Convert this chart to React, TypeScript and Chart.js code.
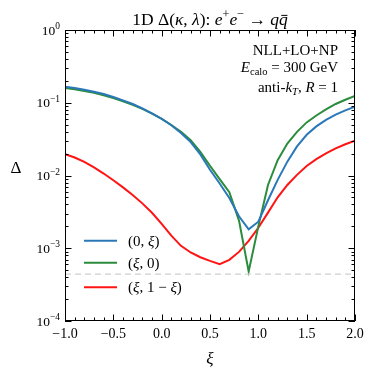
import React, { useEffect, useRef } from "react";
import { Chart, registerables } from "chart.js";

Chart.register(...registerables);

const xiValues = [
  -1.0, -0.9, -0.8, -0.7, -0.6, -0.5, -0.4, -0.3, -0.2, -0.1, 0.0, 0.1, 0.2, 0.3, 0.4, 0.5,
  0.6, 0.7, 0.8, 0.9, 1.0, 1.1, 1.2, 1.3, 1.4, 1.5, 1.6, 1.7, 1.8, 1.9, 2.0,
];

const blueVals = [
  0.166, 0.159, 0.151, 0.142, 0.132, 0.12, 0.108, 0.0962, 0.0838, 0.0716, 0.0603, 0.049, 0.0385,
  0.0288, 0.0195, 0.012, 0.00776, 0.0049, 0.00275, 0.00182, 0.00232, 0.00457, 0.00871, 0.0155,
  0.0251, 0.0363, 0.0473, 0.0582, 0.0687, 0.0785, 0.0883,
];

const greenVals = [
  0.16, 0.153, 0.145, 0.137, 0.127, 0.116, 0.105, 0.0938, 0.0822, 0.0708, 0.06, 0.0495, 0.0398,
  0.0305, 0.0211, 0.0136, 0.0089, 0.0059, 0.0024, 0.00048, 0.002, 0.00741, 0.0162, 0.0275, 0.0398,
  0.0537, 0.0668, 0.0813, 0.0962, 0.11, 0.124,
];

const redVals = [
  0.0196, 0.01766, 0.01538, 0.01294, 0.01064, 0.00861, 0.00687, 0.0054, 0.00414, 0.00307, 0.00217,
  0.00149, 0.00108, 0.000875, 0.000753, 0.000671, 0.000605, 0.000692, 0.000891, 0.00126, 0.00191,
  0.00309, 0.00501, 0.00741, 0.0102, 0.0135, 0.0168, 0.0202, 0.0236, 0.0269, 0.0302,
];

const refLevel = 4.4e-4;

const xMajorTicks = [-1.0, -0.5, 0.0, 0.5, 1.0, 1.5, 2.0];
const xTickLabels = ["\u22121.0", "\u22120.5", "0.0", "0.5", "1.0", "1.5", "2.0"];
const yDecades = [0, -1, -2, -3, -4];
const yTickExp = ["0", "\u22121", "\u22122", "\u22123", "\u22124"];

const BLUE = "#2a78b8";
const GREEN = "#2a8c3c";
const RED = "#ff1414";
const FAM = '"Liberation Serif", "DejaVu Serif", serif';

type Seg = { t: string; it?: boolean; sup?: boolean; sub?: boolean; bar?: boolean };

function drawRich(
  ctx: CanvasRenderingContext2D,
  segs: Seg[],
  x: number,
  y: number,
  size: number,
  align: "left" | "right" | "center"
) {
  const fontFor = (s: Seg) =>
    `${s.it ? "italic " : ""}${s.sup || s.sub ? size * 0.7 : size}px ${FAM}`;
  const widths = segs.map((s) => {
    ctx.font = fontFor(s);
    return ctx.measureText(s.t).width;
  });
  const total = widths.reduce((a, b) => a + b, 0);
  let cx = align === "left" ? x : align === "right" ? x - total : x - total / 2;
  ctx.textAlign = "left";
  ctx.textBaseline = "alphabetic";
  segs.forEach((s, i) => {
    ctx.font = fontFor(s);
    const dy = s.sup ? -size * 0.4 : s.sub ? size * 0.22 : 0;
    ctx.fillText(s.t, cx, y + dy);
    if (s.bar) {
      ctx.save();
      ctx.lineWidth = 1;
      ctx.beginPath();
      ctx.moveTo(cx + widths[i] * 0.25, y - size * 0.55);
      ctx.lineTo(cx + widths[i] * 0.95, y - size * 0.55);
      ctx.stroke();
      ctx.restore();
    }
    cx += widths[i];
  });
}

const decorPlugin = {
  id: "decor",
  afterDatasetsDraw(chart: any) {
    const ctx: CanvasRenderingContext2D = chart.ctx;
    const { left, right, top, bottom } = chart.chartArea;
    const xs = chart.scales.x;
    const ys = chart.scales.y;
    ctx.save();
    ctx.strokeStyle = "#000";
    ctx.fillStyle = "#000";
    ctx.lineWidth = 1;

    // frame
    ctx.strokeRect(left + 0.5, top + 0.5, right - left - 1, bottom - top - 1);

    const MAJ = 6.5;
    const MIN = 3.5;
    ctx.beginPath();
    for (let k = -10; k <= 20; k++) {
      const v = k / 10;
      const px = Math.round(xs.getPixelForValue(v)) + 0.5;
      const len = k % 5 === 0 ? MAJ : MIN;
      ctx.moveTo(px, bottom);
      ctx.lineTo(px, bottom - len);
      ctx.moveTo(px, top);
      ctx.lineTo(px, top + len);
    }
    for (let d = -4; d <= 0; d++) {
      for (let m = 1; m <= 9; m++) {
        if (d === 0 && m > 1) continue;
        const v = m * Math.pow(10, d);
        const py = Math.round(ys.getPixelForValue(v)) + 0.5;
        const len = m === 1 ? MAJ : MIN;
        ctx.moveTo(left, py);
        ctx.lineTo(left + len, py);
        ctx.moveTo(right, py);
        ctx.lineTo(right - len, py);
      }
    }
    ctx.stroke();

    xMajorTicks.forEach((v, i) => {
      drawRich(ctx, [{ t: xTickLabels[i] }], xs.getPixelForValue(v), 338, 14, "center");
    });
    yDecades.forEach((d, i) => {
      const py = ys.getPixelForValue(Math.pow(10, d));
      drawRich(ctx, [{ t: "10" }, { t: yTickExp[i], sup: true }], 60, py + 4.5, 13.5, "right");
    });

    drawRich(ctx, [{ t: "\u0394" }], 16, 173, 17, "center");
    drawRich(ctx, [{ t: "\u03be", it: true }], (left + right) / 2, 364, 17, "center");

    drawRich(
      ctx,
      [
        { t: "1D \u0394(" },
        { t: "\u03ba", it: true },
        { t: ", " },
        { t: "\u03bb", it: true },
        { t: "): " },
        { t: "e", it: true },
        { t: "+", sup: true },
        { t: "e", it: true },
        { t: "\u2212", sup: true },
        { t: " \u2192 " },
        { t: "q", it: true },
        { t: "q", it: true, bar: true },
      ],
      (left + right) / 2,
      25,
      17.5,
      "center"
    );

    const ax = 338;
    drawRich(ctx, [{ t: "NLL+LO+NP" }], ax, 55, 15, "right");
    drawRich(
      ctx,
      [{ t: "E", it: true }, { t: "calo", sub: true }, { t: " = 300 GeV" }],
      ax,
      72,
      15,
      "right"
    );
    drawRich(
      ctx,
      [
        { t: "anti-" },
        { t: "k", it: true },
        { t: "T", it: true, sub: true },
        { t: ", " },
        { t: "R", it: true },
        { t: " = 1" },
      ],
      ax,
      91.5,
      15,
      "right"
    );

    const legend: { c: string; y: number; segs: Seg[] }[] = [
      { c: BLUE, y: 240.7, segs: [{ t: "(0, " }, { t: "\u03be", it: true }, { t: ")" }] },
      { c: GREEN, y: 262.7, segs: [{ t: "(" }, { t: "\u03be", it: true }, { t: ", 0)" }] },
      {
        c: RED,
        y: 287.3,
        segs: [{ t: "(" }, { t: "\u03be", it: true }, { t: ", 1 \u2212 " }, { t: "\u03be", it: true }, { t: ")" }],
      },
    ];
    legend.forEach((l) => {
      ctx.save();
      ctx.strokeStyle = l.c;
      ctx.lineWidth = 2;
      ctx.beginPath();
      ctx.moveTo(84, l.y);
      ctx.lineTo(117, l.y);
      ctx.stroke();
      ctx.restore();
      drawRich(ctx, l.segs, 128, l.y + 5, 15, "left");
    });

    ctx.restore();
  },
};

export default function App() {
  const ref = useRef<HTMLCanvasElement | null>(null);
  useEffect(() => {
    if (!ref.current) return;
    const mk = (vals: number[]) => xiValues.map((x, i) => ({ x, y: vals[i] }));
    const chart = new Chart(ref.current, {
      type: "line",
      data: {
        datasets: [
          {
            data: [
              { x: xMajorTicks[0], y: refLevel },
              { x: xMajorTicks[xMajorTicks.length - 1], y: refLevel },
            ],
            borderColor: "#cfcfcf",
            borderWidth: 1.2,
            borderDash: [6, 4],
            pointRadius: 0,
          },
          { data: mk(blueVals), borderColor: BLUE, borderWidth: 2, pointRadius: 0, tension: 0 },
          { data: mk(greenVals), borderColor: GREEN, borderWidth: 2, pointRadius: 0, tension: 0 },
          { data: mk(redVals), borderColor: RED, borderWidth: 2, pointRadius: 0, tension: 0 },
        ],
      },
      options: {
        animation: false,
        responsive: false,
        devicePixelRatio: 1,
        layout: { padding: { left: 65, right: 19, top: 30, bottom: 53 } },
        plugins: { legend: { display: false }, title: { display: false }, tooltip: { enabled: false } },
        scales: {
          x: { type: "linear", min: -1, max: 2, display: false },
          y: { type: "logarithmic", min: 1e-4, max: 1, display: false },
        },
      },
      plugins: [decorPlugin],
    });
    return () => chart.destroy();
  }, []);
  return (
    <div style={{ position: "fixed", left: 0, top: 0, width: 374, height: 374, background: "#fff" }}>
      <canvas ref={ref} width={374} height={374} style={{ width: 374, height: 374 }} />
    </div>
  );
}
